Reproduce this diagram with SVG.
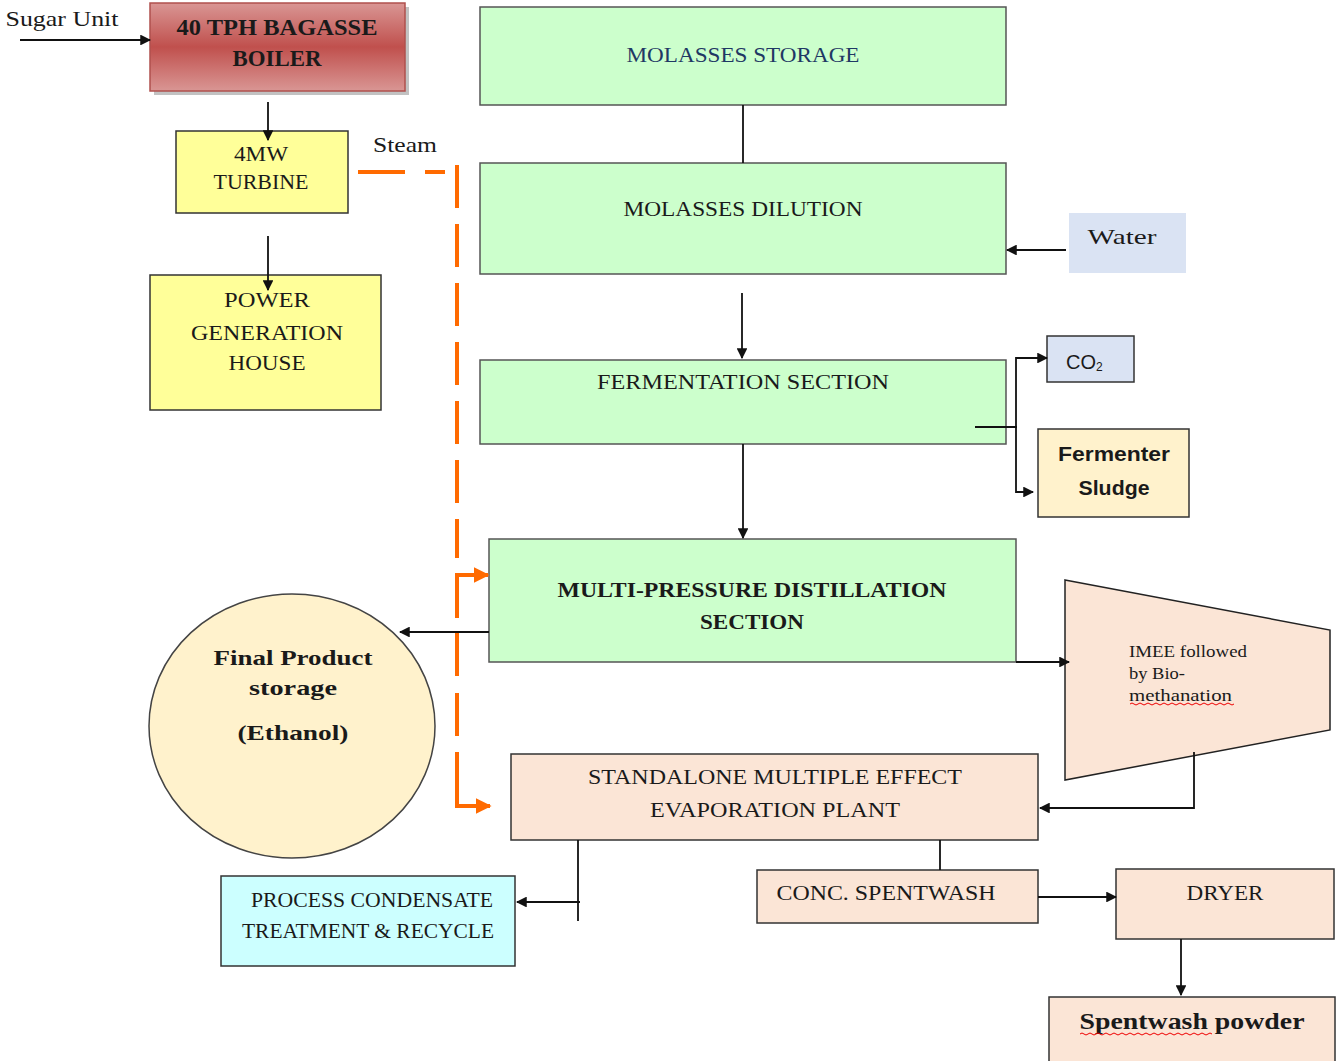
<svg xmlns="http://www.w3.org/2000/svg" width="1336" height="1061" viewBox="0 0 1336 1061">
<defs>
<style>
.t{font-family:"Liberation Serif","DejaVu Serif",serif;fill:#1a1a1a;text-anchor:middle}
.b{font-weight:bold}
.s{font-family:"Liberation Sans","DejaVu Sans",sans-serif;font-weight:bold;fill:#1a1a1a;text-anchor:middle}
.box{stroke:#333;stroke-width:1.5}
.g{fill:#ccffcc;stroke:#555;stroke-width:1.5}
.p{fill:#fbe5d6;stroke:#333;stroke-width:1.5}
.y{fill:#ffff99;stroke:#333;stroke-width:1.5}
.ln{stroke:#111;stroke-width:1.8;fill:none}
.ar{stroke:#111;stroke-width:1.8;fill:none;marker-end:url(#ah)}
.st{stroke:#ff6a00;stroke-width:4;fill:none}
.sq{stroke:#e00;stroke-width:1;fill:none}
</style>
<marker id="ah" viewBox="0 0 10 10" refX="9" refY="5" markerWidth="6" markerHeight="6" orient="auto" markerUnits="strokeWidth"><path d="M0,0 L10,5 L0,10 z" fill="#111"/></marker>
<marker id="oh" viewBox="0 0 10 10" refX="9" refY="5" markerWidth="4" markerHeight="4" orient="auto" markerUnits="strokeWidth"><path d="M0,0 L10,5 L0,10 z" fill="#ff6a00"/></marker>
<linearGradient id="red" x1="0" y1="0" x2="0" y2="1">
<stop offset="0" stop-color="#d99694"/><stop offset="0.5" stop-color="#c0504d"/><stop offset="1" stop-color="#d99694"/>
</linearGradient>
</defs>
<rect width="1336" height="1061" fill="#fff"/>

<g id="sugar-unit"><text class="t" x="62" y="26" font-size="22" textLength="113" lengthAdjust="spacingAndGlyphs">Sugar Unit</text></g>

<g id="boiler">
<rect x="154" y="7" width="255" height="88" fill="#999" opacity="0.6"/>
<rect x="150" y="3" width="255" height="88" fill="url(#red)" stroke="#b0504d" stroke-width="1.5"/>
<text class="t b" x="277" y="35" font-size="23" textLength="201" lengthAdjust="spacingAndGlyphs">40 TPH BAGASSE</text>
<text class="t b" x="277" y="66" font-size="23" textLength="89" lengthAdjust="spacingAndGlyphs">BOILER</text>
</g>

<g id="turbine">
<rect class="y" x="176" y="131" width="172" height="82"/>
<text class="t" x="261" y="161" font-size="20" textLength="54" lengthAdjust="spacingAndGlyphs">4MW</text>
<text class="t" x="261" y="189" font-size="20" textLength="95" lengthAdjust="spacingAndGlyphs">TURBINE</text>
</g>

<g id="steam-label"><text class="t" x="405" y="152" font-size="21" textLength="64" lengthAdjust="spacingAndGlyphs">Steam</text></g>

<g id="power-house">
<rect class="y" x="150" y="275" width="231" height="135"/>
<text class="t" x="267" y="307" font-size="21" textLength="86" lengthAdjust="spacingAndGlyphs">POWER</text>
<text class="t" x="267" y="340" font-size="21" textLength="152" lengthAdjust="spacingAndGlyphs">GENERATION</text>
<text class="t" x="267" y="370" font-size="21" textLength="77" lengthAdjust="spacingAndGlyphs">HOUSE</text>
</g>

<g id="molasses-storage">
<rect class="g" x="480" y="7" width="526" height="98"/>
<text class="t" x="743" y="62" font-size="21" style="fill:#1f3864" textLength="233" lengthAdjust="spacingAndGlyphs">MOLASSES STORAGE</text>
</g>

<g id="molasses-dilution">
<rect class="g" x="480" y="163" width="526" height="111"/>
<text class="t" x="743" y="216" font-size="21" textLength="239" lengthAdjust="spacingAndGlyphs">MOLASSES DILUTION</text>
</g>

<g id="water">
<rect x="1069" y="213" width="117" height="60" fill="#dae3f3"/>
<text class="t" x="1122" y="244" font-size="22" textLength="69" lengthAdjust="spacingAndGlyphs">Water</text>
</g>

<g id="fermentation">
<rect class="g" x="480" y="360" width="526" height="84"/>
<text class="t" x="743" y="389" font-size="21" textLength="292" lengthAdjust="spacingAndGlyphs">FERMENTATION SECTION</text>
</g>

<g id="co2">
<rect class="box" x="1047" y="336" width="87" height="46" fill="#dae3f3"/>
<text x="1066" y="369" font-family="Liberation Sans, DejaVu Sans, sans-serif" font-size="20" fill="#1a1a1a">CO<tspan font-size="12" dy="2">2</tspan></text>
</g>

<g id="fermenter-sludge">
<rect class="box" x="1038" y="429" width="151" height="88" fill="#fff2cc"/>
<text class="s" x="1114" y="461" font-size="20" textLength="112" lengthAdjust="spacingAndGlyphs">Fermenter</text>
<text class="s" x="1114" y="495" font-size="20" textLength="71" lengthAdjust="spacingAndGlyphs">Sludge</text>
</g>

<g id="distillation">
<rect class="g" x="489" y="539" width="527" height="123"/>
<text class="t b" x="752" y="597" font-size="22" textLength="389" lengthAdjust="spacingAndGlyphs">MULTI-PRESSURE DISTILLATION</text>
<text class="t b" x="752" y="629" font-size="22" textLength="104" lengthAdjust="spacingAndGlyphs">SECTION</text>
</g>

<g id="final-product">
<ellipse cx="292" cy="726" rx="143" ry="132" fill="#fff2cc" stroke="#444" stroke-width="1.5"/>
<text class="t b" x="293" y="665" font-size="22" textLength="159" lengthAdjust="spacingAndGlyphs">Final Product</text>
<text class="t b" x="293" y="695" font-size="22" textLength="88" lengthAdjust="spacingAndGlyphs">storage</text>
<text class="t b" x="293" y="740" font-size="22" textLength="111" lengthAdjust="spacingAndGlyphs">(Ethanol)</text>
</g>

<g id="imee">
<polygon points="1065,580 1330,630 1330,730 1065,780" fill="#fbe5d6" stroke="#222" stroke-width="1.5"/>
<text class="t" x="1129" y="657" font-size="17" style="text-anchor:start" textLength="118" lengthAdjust="spacingAndGlyphs">IMEE followed</text>
<text class="t" x="1129" y="679" font-size="17" style="text-anchor:start" textLength="56" lengthAdjust="spacingAndGlyphs">by Bio-</text>
<text class="t" x="1129" y="701" font-size="17" style="text-anchor:start" textLength="103" lengthAdjust="spacingAndGlyphs">methanation</text>
<path class="sq" d="M1130,704 q2,-2 4,0 t4,0 t4,0 t4,0 t4,0 t4,0 t4,0 t4,0 t4,0 t4,0 t4,0 t4,0 t4,0 t4,0 t4,0 t4,0 t4,0 t4,0 t4,0 t4,0 t4,0 t4,0 t4,0 t4,0 t4,0 t4,0"/>
</g>

<g id="mee-plant">
<rect class="p" x="511" y="754" width="527" height="86"/>
<text class="t" x="775" y="784" font-size="21" textLength="374" lengthAdjust="spacingAndGlyphs">STANDALONE MULTIPLE EFFECT</text>
<text class="t" x="775" y="817" font-size="21" textLength="250" lengthAdjust="spacingAndGlyphs">EVAPORATION PLANT</text>
</g>

<g id="process-condensate">
<rect class="box" x="221" y="876" width="294" height="90" fill="#ccffff"/>
<text class="t" x="372" y="907" font-size="20" textLength="242" lengthAdjust="spacingAndGlyphs">PROCESS CONDENSATE</text>
<text class="t" x="368" y="938" font-size="20" textLength="252" lengthAdjust="spacingAndGlyphs">TREATMENT &amp; RECYCLE</text>
</g>

<g id="conc-spentwash">
<rect class="p" x="757" y="870" width="281" height="53"/>
<text class="t" x="886" y="900" font-size="21" textLength="219" lengthAdjust="spacingAndGlyphs">CONC. SPENTWASH</text>
</g>

<g id="dryer">
<rect class="p" x="1116" y="869" width="218" height="70"/>
<text class="t" x="1225" y="900" font-size="21" textLength="77" lengthAdjust="spacingAndGlyphs">DRYER</text>
</g>

<g id="spentwash-powder">
<rect class="p" x="1049" y="997" width="286" height="66"/>
<text class="t b" x="1192" y="1029" font-size="23" textLength="225" lengthAdjust="spacingAndGlyphs">Spentwash powder</text>
<path class="sq" d="M1080,1034 q2,-2 4,0 t4,0 t4,0 t4,0 t4,0 t4,0 t4,0 t4,0 t4,0 t4,0 t4,0 t4,0 t4,0 t4,0 t4,0 t4,0 t4,0 t4,0 t4,0 t4,0 t4,0 t4,0 t4,0 t4,0 t4,0 t4,0 t4,0 t4,0 t4,0 t4,0 t4,0 t4,0 t4,0"/>
</g>

<g id="connectors">
<line class="ar" x1="20" y1="40" x2="150" y2="40"/>
<line class="ar" x1="268" y1="102" x2="268" y2="140"/>
<line class="ar" x1="268" y1="236" x2="268" y2="290"/>
<line class="ln" x1="743" y1="105" x2="743" y2="163"/>
<line class="ar" x1="1066" y1="250" x2="1007" y2="250"/>
<line class="ar" x1="742" y1="293" x2="742" y2="358"/>
<path class="ln" d="M975,427 L1017,427"/>
<path class="ar" d="M1016,427 L1016,358 L1047,358"/>
<path class="ar" d="M1016,427 L1016,492 L1033,492"/>
<line class="ar" x1="743" y1="444" x2="743" y2="538"/>
<line class="ar" x1="489" y1="632" x2="400" y2="632"/>
<line class="ar" x1="1016" y1="662" x2="1069" y2="662"/>
<path class="ar" d="M1194,752 L1194,808 L1040,808"/>
<line class="ln" x1="578" y1="840" x2="578" y2="921"/>
<line class="ar" x1="580" y1="902" x2="517" y2="902"/>
<line class="ln" x1="940" y1="840" x2="940" y2="870"/>
<line class="ar" x1="1038" y1="897" x2="1116" y2="897"/>
<line class="ar" x1="1181" y1="939" x2="1181" y2="995"/>
<path class="st" d="M358,172 L405,172 M425,172 L445,172"/>
<path class="st" d="M457,165 L457,558" stroke-dasharray="43 16"/>
<path class="st" d="M457,618 L457,575 L488,575" marker-end="url(#oh)"/>
<path class="st" d="M457,633 L457,676 M457,693 L457,736 M457,752 L457,806 L475,806"/>
<path class="st" d="M475,806 L490,806" marker-end="url(#oh)"/>
</g>
</svg>
